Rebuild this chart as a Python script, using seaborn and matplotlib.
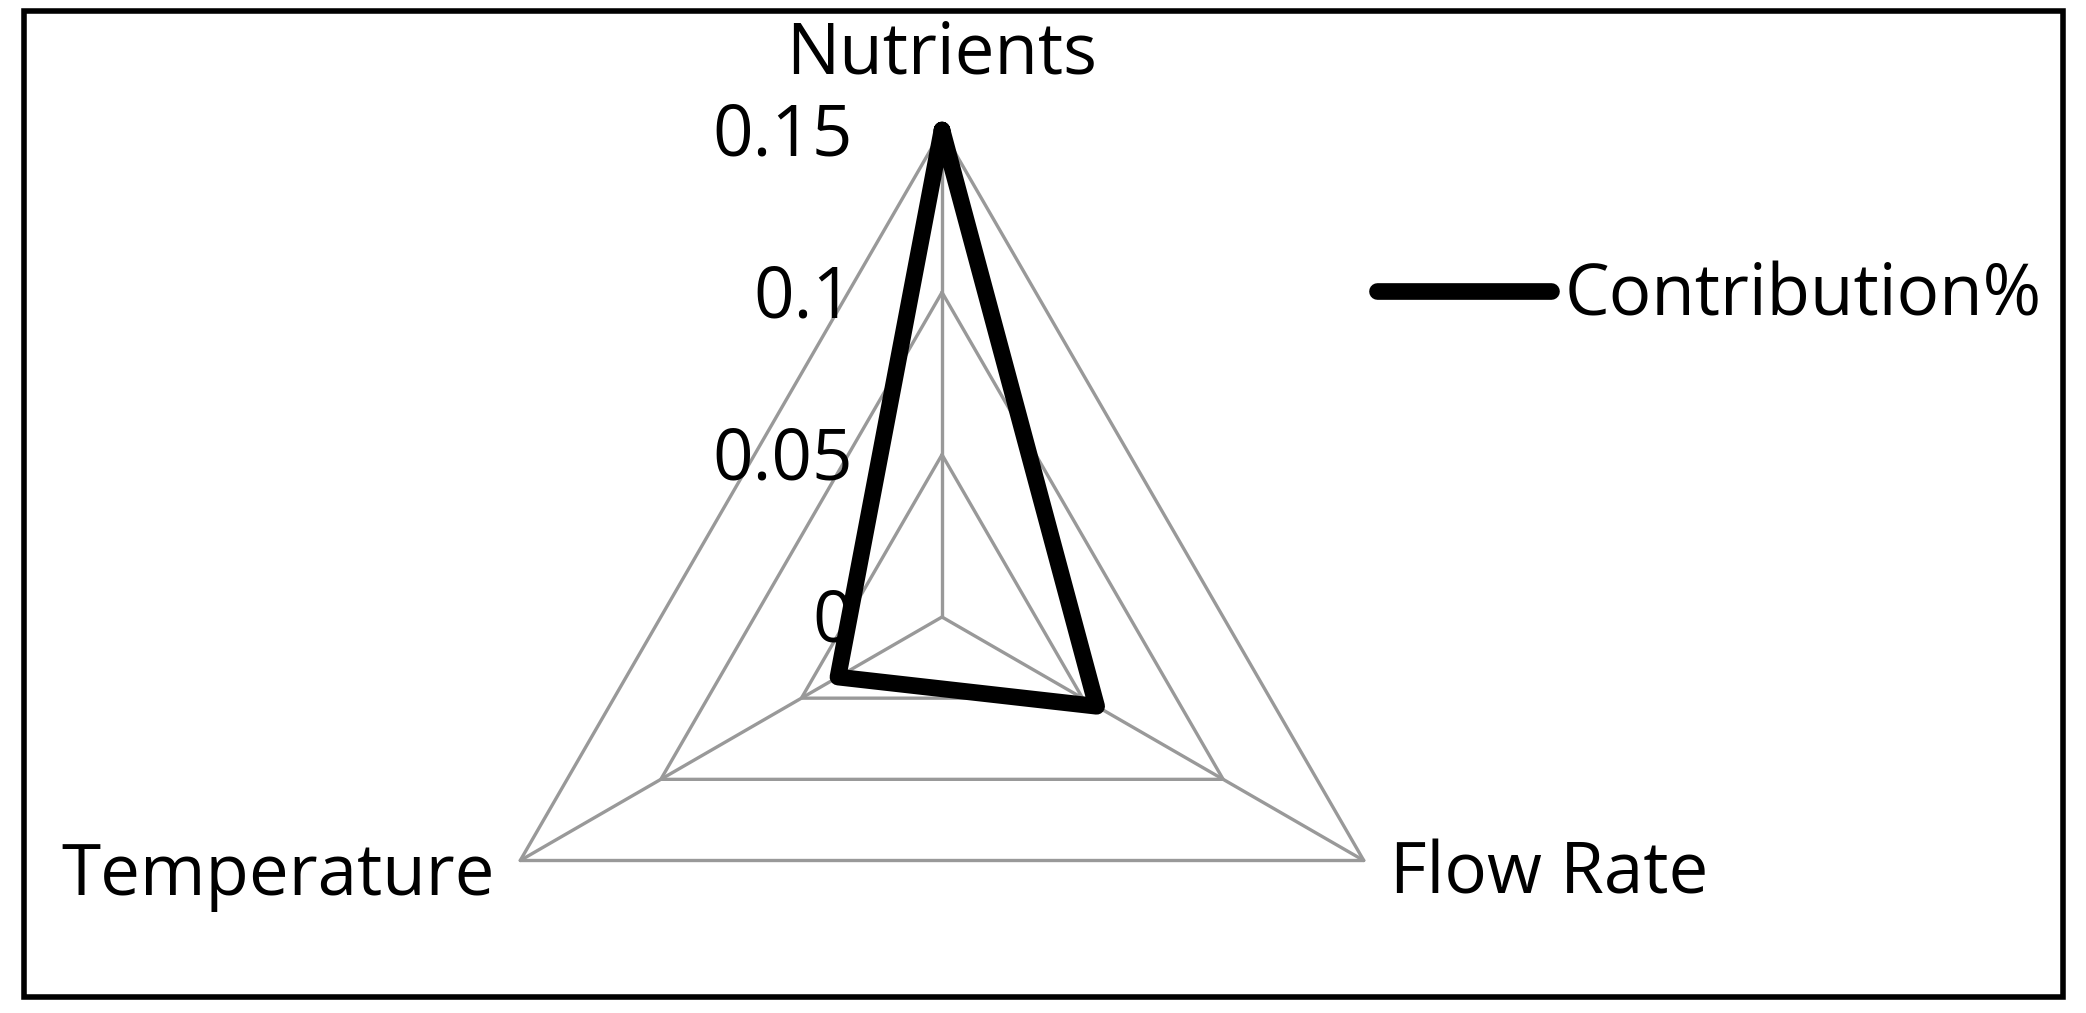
import numpy as np
import pandas as pd
import matplotlib
matplotlib.use('Agg')
import matplotlib.pyplot as plt
from matplotlib.patches import Rectangle
import seaborn as sns

# ------------------------------------------------------------------
# Data
# ------------------------------------------------------------------
categories   = ['Nutrients', 'Flow Rate', 'Temperature']
contribution = [0.150, 0.055, 0.037]
levels       = [0, 0.05, 0.1, 0.15]
level_labels = ['0', '0.05', '0.1', '0.15']
series_name  = 'Contribution%'

sns.set_theme(style='white')
plt.rcParams['font.family'] = ['Open Sans', 'DejaVu Sans']
plt.rcParams['text.color'] = 'black'

W, H = 2086, 1013
fig = plt.figure(figsize=(W / 100, H / 100), dpi=100)
ax = fig.add_axes([0, 0, 1, 1])

# centre of the radar in pixels and pixels per data unit
cx, cy = 942, 617
scale = 487 / max(levels)
ax.set_xlim(-cx / scale, (W - cx) / scale)
ax.set_ylim(-(H - cy) / scale, cy / scale)
ax.axis('off')

def px_x(p):
    return (p - cx) / scale

def px_y(p):
    return (cy - p) / scale

angles = np.deg2rad([90, -30, 210])
grid_col = '#999999'

# ------------------------------------------------------------------
# Grid: triangles + spokes
# ------------------------------------------------------------------
for lv in levels[1:]:
    gx = np.append(lv * np.cos(angles), lv * np.cos(angles[0]))
    gy = np.append(lv * np.sin(angles), lv * np.sin(angles[0]))
    ax.plot(gx, gy, color=grid_col, lw=2.4, zorder=1)
for a in angles:
    ax.plot([0, max(levels) * np.cos(a)], [0, max(levels) * np.sin(a)],
            color=grid_col, lw=2.4, zorder=1)

# ------------------------------------------------------------------
# Series
# ------------------------------------------------------------------
vals = np.array(contribution + contribution[:1])
ang = np.append(angles, angles[0])
df = pd.DataFrame({'x': vals * np.cos(ang), 'y': vals * np.sin(ang)})
sns.lineplot(data=df, x='x', y='y', sort=False, estimator=None, ax=ax,
             color='black', lw=12, label=series_name, zorder=3,
             solid_joinstyle='round', solid_capstyle='round')

# ------------------------------------------------------------------
# Text
# ------------------------------------------------------------------
fs = 51
for lv, lab in zip(levels, level_labels):
    ax.text(px_x(853), lv - 25 / scale, lab, ha='right', va='baseline',
            fontsize=fs, color='black', zorder=2)

ax.text(0, px_y(73), categories[0], ha='center', va='baseline', fontsize=fs, color='black')
ax.text(px_x(1390), px_y(894), categories[1], ha='left', va='baseline', fontsize=fs, color='black')
ax.text(px_x(495), px_y(895), categories[2], ha='right', va='baseline', fontsize=fs, color='black')

leg = ax.legend(loc='center left', bbox_to_anchor=(1377 / W, 1 - 297 / H),
                bbox_transform=fig.transFigure, frameon=False, fontsize=fs,
                handlelength=2.45, handletextpad=0.2, borderpad=0, borderaxespad=0,
                labelcolor='black')
for h in leg.get_lines():
    h.set_linewidth(12)
    h.set_solid_capstyle('round')

# outer frame
fig.patches.append(Rectangle((24 / W, 1 - 997 / H), (2063 - 24) / W, (997 - 11) / H,
                             transform=fig.transFigure, fill=False, ec='black', lw=4))

fig.savefig('out.png', dpi=100, facecolor='white')
